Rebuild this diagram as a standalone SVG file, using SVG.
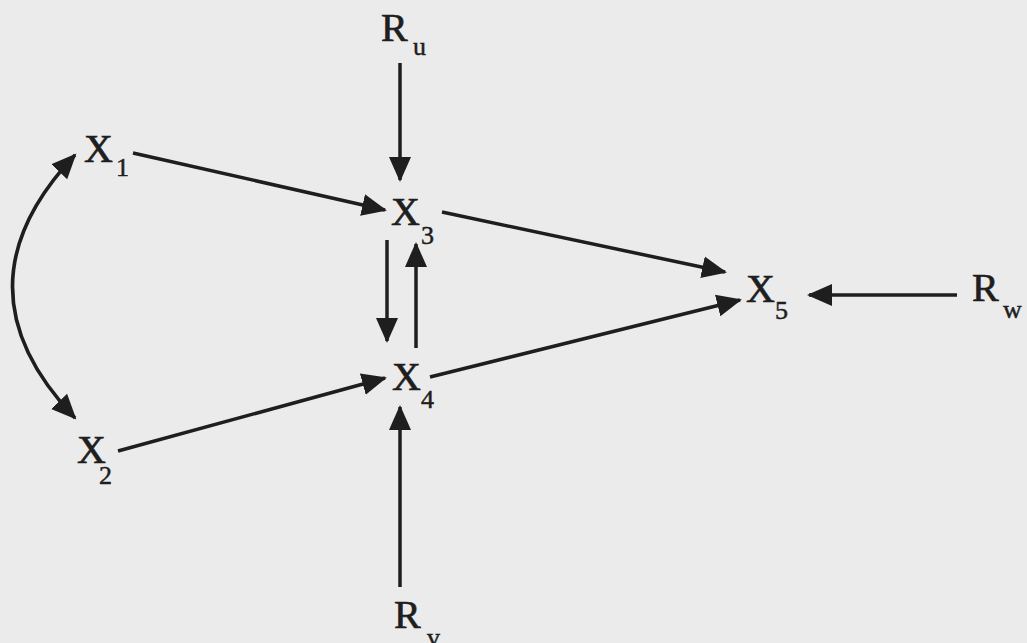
<svg xmlns="http://www.w3.org/2000/svg" width="1027" height="643" viewBox="0 0 1027 643">
<style>
.lbl{font-family:"Liberation Serif","Times New Roman",serif;font-size:40px;fill:#1e1e1e;stroke:#1e1e1e;stroke-width:0.7}
.sub{font-family:"Liberation Serif","Times New Roman",serif;font-size:26px;fill:#1e1e1e;stroke:#1e1e1e;stroke-width:0.5}
.edge{stroke:#1e1e1e;stroke-width:3.5;fill:none}
</style>
<defs>
<marker id="ah" markerUnits="userSpaceOnUse" markerWidth="26" markerHeight="24" refX="23" refY="11" orient="auto-start-reverse" viewBox="0 0 26 22">
<path d="M0,0 L25,11 L0,22 z" fill="#1e1e1e"/>
</marker>
</defs>
<rect width="1027" height="643" fill="#ebebeb"/>
<g id="connectors">
<path class="edge" d="M400,63 L400,180" marker-end="url(#ah)"/>
<path class="edge" d="M387,240 L387,341" marker-end="url(#ah)"/>
<path class="edge" d="M416,348 L416,244" marker-end="url(#ah)"/>
<path class="edge" d="M400,587 L400,407" marker-end="url(#ah)"/>
<path class="edge" d="M133,153 L385,210" marker-end="url(#ah)"/>
<path class="edge" d="M118,451 L385,378" marker-end="url(#ah)"/>
<path class="edge" d="M442,212 L725,272" marker-end="url(#ah)"/>
<path class="edge" d="M430,377 L740,300" marker-end="url(#ah)"/>
<path class="edge" d="M957,295 L809,295" marker-end="url(#ah)"/>
<path class="edge" d="M75,155 Q-50,287 75,418" marker-start="url(#ah)" marker-end="url(#ah)"/>
</g>
<g id="X1"><text class="lbl" x="84" y="162">X</text><text class="sub" x="116" y="176">1</text></g>
<g id="X2"><text class="lbl" x="77" y="463">X</text><text class="sub" x="99" y="484">2</text></g>
<g id="X3"><text class="lbl" x="391" y="225">X</text><text class="sub" x="421" y="244">3</text></g>
<g id="X4"><text class="lbl" x="392" y="390">X</text><text class="sub" x="421" y="408">4</text></g>
<g id="X5"><text class="lbl" x="746" y="302">X</text><text class="sub" x="775" y="319">5</text></g>
<g id="Ru"><text class="lbl" x="381" y="41">R</text><text class="sub" x="413" y="55">u</text></g>
<g id="Rv"><text class="lbl" x="394" y="628">R</text><text class="sub" x="427" y="646">v</text></g>
<g id="Rw"><text class="lbl" x="972" y="301">R</text><text class="sub" x="1003" y="318">w</text></g>
</svg>
